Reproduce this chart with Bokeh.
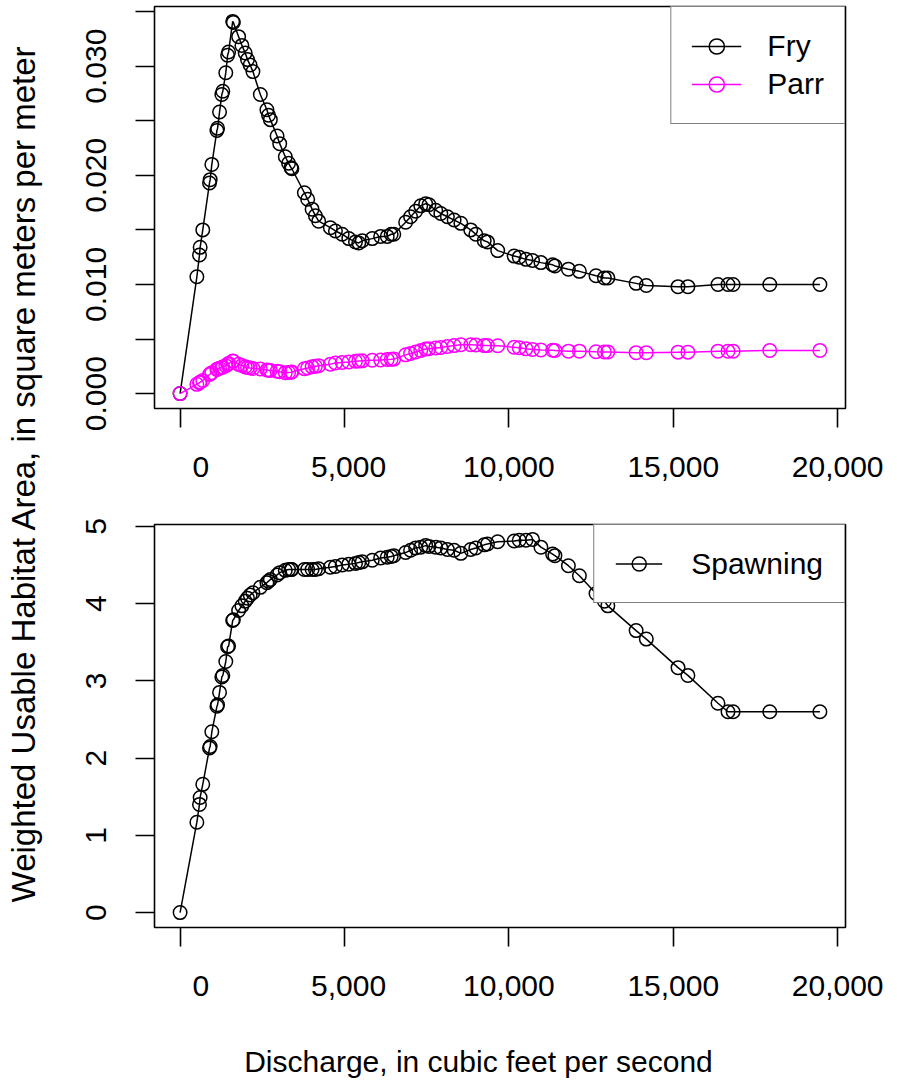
import math
from bokeh.plotting import figure
from bokeh.models import (Range1d, FixedTicker, NumeralTickFormatter, Legend,
                          LegendItem, Label)
from bokeh.layouts import row, column
from bokeh.embed import file_html
from bokeh.resources import INLINE

# ---------------- data ----------------
discharge = [0, 510, 590, 610, 690, 895, 915, 965, 1120, 1140, 1200, 1270, 1300,
             1390, 1445, 1475, 1600, 1620, 1780, 1880, 1980, 2050, 2130, 2215,
             2440, 2640, 2690, 2745, 2950, 3030, 3200, 3300, 3375, 3400, 3780,
             3880, 4015, 4115, 4215, 4570, 4725, 4930, 5130, 5335, 5435, 5540,
             5845, 6100, 6300, 6420, 6500, 6860, 7010, 7165, 7320, 7470, 7570,
             7775, 7930, 8130, 8335, 8540, 8840, 8995, 9250, 9350, 9660, 10160,
             10315, 10520, 10720, 10975, 11330, 11400, 11810, 12145, 12650,
             12905, 13010, 13870, 14180, 15145, 15445, 16360, 16665, 16820,
             17935, 19460]

fry = [0.0, 0.0107, 0.0127, 0.0134, 0.0150, 0.0193, 0.0196, 0.0210, 0.0241,
       0.0243, 0.0258, 0.0274, 0.0277, 0.0294, 0.0310, 0.0313, 0.0341, 0.0340,
       0.0327, 0.0319, 0.0312, 0.0306, 0.0301, 0.0295, 0.0274, 0.0260, 0.0255,
       0.0251, 0.0236, 0.0229, 0.0217, 0.0211, 0.0207, 0.0206, 0.0184, 0.0178,
       0.0169, 0.0163, 0.0158, 0.0152, 0.0149, 0.0146, 0.0142, 0.0139, 0.0138,
       0.0140, 0.0142, 0.0144, 0.0144, 0.0146, 0.0146, 0.0157, 0.0162, 0.0167,
       0.0172, 0.0174, 0.0173, 0.0168, 0.0165, 0.0162, 0.0159, 0.0156, 0.0150,
       0.0146, 0.0140, 0.0139, 0.0131, 0.0126, 0.0125, 0.0123, 0.0122, 0.0120,
       0.0118, 0.0117, 0.0114, 0.0112, 0.0108, 0.0106, 0.0106, 0.0101, 0.0099,
       0.0098, 0.0098, 0.0100, 0.0100, 0.0100, 0.0100, 0.0100]

parr = [0.0, 0.00085, 0.00100, 0.00106, 0.00120, 0.00175, 0.00180, 0.00192,
        0.00222, 0.00225, 0.00232, 0.00240, 0.00244, 0.00256, 0.00268, 0.00275,
        0.00298, 0.00296, 0.00268, 0.00258, 0.00245, 0.00240, 0.00235, 0.00230,
        0.00225, 0.00216, 0.00214, 0.00212, 0.00205, 0.00200, 0.00192, 0.00194,
        0.00196, 0.00198, 0.00228, 0.00235, 0.00245, 0.00250, 0.00256, 0.00270,
        0.00280, 0.00285, 0.00290, 0.00296, 0.00298, 0.00300, 0.00305, 0.00308,
        0.00312, 0.00314, 0.00316, 0.00355, 0.00368, 0.00382, 0.00395, 0.00408,
        0.00412, 0.00418, 0.00422, 0.00432, 0.00440, 0.00448, 0.00448, 0.00445,
        0.00440, 0.00440, 0.00438, 0.00425, 0.00420, 0.00410, 0.00405, 0.00400,
        0.00398, 0.00395, 0.00389, 0.00389, 0.00384, 0.00382, 0.00382, 0.00375,
        0.00375, 0.00380, 0.00380, 0.00389, 0.00389, 0.00389, 0.00396, 0.00396]

spawning = [0.0, 1.17, 1.40, 1.49, 1.66, 2.13, 2.15, 2.34, 2.67, 2.69, 2.85,
            3.05, 3.07, 3.25, 3.44, 3.45, 3.78, 3.79, 3.91, 3.97, 4.03, 4.07,
            4.11, 4.14, 4.21, 4.27, 4.29, 4.31, 4.37, 4.40, 4.43, 4.44, 4.44,
            4.44, 4.44, 4.44, 4.44, 4.44, 4.45, 4.47, 4.48, 4.50, 4.51, 4.52,
            4.53, 4.54, 4.56, 4.59, 4.60, 4.61, 4.62, 4.66, 4.69, 4.72, 4.73,
            4.75, 4.74, 4.73, 4.72, 4.70, 4.69, 4.65, 4.70, 4.72, 4.76, 4.77,
            4.80, 4.81, 4.82, 4.82, 4.83, 4.73, 4.64, 4.62, 4.49, 4.36, 4.13,
            4.03, 3.97, 3.65, 3.54, 3.17, 3.07, 2.71, 2.60, 2.60, 2.60, 2.60]

x_ticks = [0, 5000, 10000, 15000, 20000]
top_y_major = [0.0, 0.01, 0.02, 0.03]
top_y_minor = [0.005, 0.015, 0.025, 0.035]
bottom_y_ticks = [0, 1, 2, 3, 4, 5]

series_names = ["Fry", "Parr", "Spawning"]
series_colors = ["#000000", "#FF00FF", "#000000"]

y_title = "Weighted Usable Habitat Area, in square meters per meter"
x_title = "Discharge, in cubic feet per second"

FONT = "Liberation Sans"
FS = "30px"

# R-like padded labels (format() right-justifies to a common width)
raw = [f"{t:,}" for t in x_ticks]
wmax = max(len(s) for s in raw)
x_labels = {t: s.rjust(wmax, "\u00a0") for t, s in zip(x_ticks, raw)}


def r_range(vals):
    lo, hi = min(vals), max(vals)
    pad = 0.04 * (hi - lo)
    return Range1d(lo - pad, hi + pad)


def style(p):
    p.xgrid.visible = False
    p.ygrid.visible = False
    p.outline_line_color = "black"
    p.outline_line_width = 1.6
    p.background_fill_color = "white"
    p.border_fill_color = "white"
    for ax in p.axis:
        ax.axis_line_color = None
        ax.major_tick_in = 0
        ax.major_tick_out = 19
        ax.major_tick_line_width = 1.6
        ax.major_tick_line_color = "black"
        ax.minor_tick_in = 0
        ax.minor_tick_out = 19
        ax.minor_tick_line_width = 1.6
        ax.minor_tick_line_color = "black"
        ax.major_label_text_font = FONT
        ax.major_label_text_font_size = FS
        ax.major_label_text_color = "black"
    p.xaxis.major_label_standoff = 22
    p.yaxis.major_label_standoff = 29
    p.xaxis.ticker = FixedTicker(ticks=x_ticks)
    p.xaxis.formatter = NumeralTickFormatter(format="0,0")
    p.xaxis.major_label_overrides = x_labels
    p.yaxis.major_label_orientation = "vertical"


def legend(items, padding, gw, gh, standoff):
    return Legend(items=items, location="top_right", margin=0, padding=padding,
                  spacing=0, glyph_width=gw, glyph_height=gh,
                  label_height=gh, label_width=10, label_standoff=standoff,
                  label_text_font=FONT, label_text_font_size=FS,
                  label_text_color="black", label_text_baseline="middle",
                  border_line_color="black", border_line_width=1.6,
                  background_fill_color="white", background_fill_alpha=1.0)


W = 849

# ---------------- top panel ----------------
xr = r_range(discharge)
top = figure(width=W, height=490, x_range=xr,
             y_range=r_range(fry + parr),
             output_backend="svg", toolbar_location=None,
             min_border_left=105, min_border_right=52,
             min_border_top=6, min_border_bottom=82)
style(top)
top.yaxis.ticker = FixedTicker(ticks=top_y_major, minor_ticks=top_y_minor)
top.yaxis.formatter = NumeralTickFormatter(format="0.000")

items = []
for name, vals, col in zip(series_names[:2], [fry, parr], series_colors[:2]):
    ln = top.line(discharge, vals, line_color=col, line_width=1.5)
    pt = top.scatter(discharge, vals, marker="circle", size=13.5,
                     fill_color=None, line_color=col, line_width=1.5)
    items.append(LegendItem(label=name, renderers=[ln, pt]))
top.add_layout(legend(items, 20, 50, 38, 26))

# ---------------- bottom panel ----------------
bot = figure(width=W, height=530, x_range=Range1d(xr.start, xr.end),
             y_range=r_range(spawning),
             output_backend="svg", toolbar_location=None,
             min_border_left=106, min_border_right=52,
             min_border_top=34, min_border_bottom=93)
style(bot)
bot.yaxis.ticker = FixedTicker(ticks=bottom_y_ticks)
bot.yaxis.formatter = NumeralTickFormatter(format="0")

ln = bot.line(discharge, spawning, line_color=series_colors[2], line_width=1.5)
pt = bot.scatter(discharge, spawning, marker="circle", size=13.5,
                 fill_color=None, line_color=series_colors[2], line_width=1.5)
bot.add_layout(legend([LegendItem(label=series_names[2], renderers=[ln, pt])],
                      21, 47, 35, 29))


def text_strip(width, height):
    f = figure(width=width, height=height, output_backend="svg",
               toolbar_location=None, x_axis_type=None, y_axis_type=None,
               min_border=0, x_range=Range1d(0, 1), y_range=Range1d(0, 1),
               frame_align=False)
    f.outline_line_color = None
    f.xgrid.visible = False
    f.ygrid.visible = False
    return f


# ---------------- shared x-axis title ----------------
xlab = text_strip(W, 60)
xlab.add_layout(Label(x=430, y=19, x_units="screen", y_units="screen",
                      text=x_title, text_font=FONT, text_font_size=FS,
                      text_align="center", text_baseline="middle",
                      text_color="black"))

# ---------------- shared y-axis title ----------------
ylab = text_strip(48, 1080)
ylab.add_layout(Label(x=23, y=607, x_units="screen", y_units="screen",
                      text=y_title, text_font=FONT, text_font_size="33px",
                      angle=math.pi / 2, text_align="center",
                      text_baseline="middle", text_color="black"))

layout = row(ylab, column(top, bot, xlab))
open("out.html", "w").write(file_html(layout, INLINE))
